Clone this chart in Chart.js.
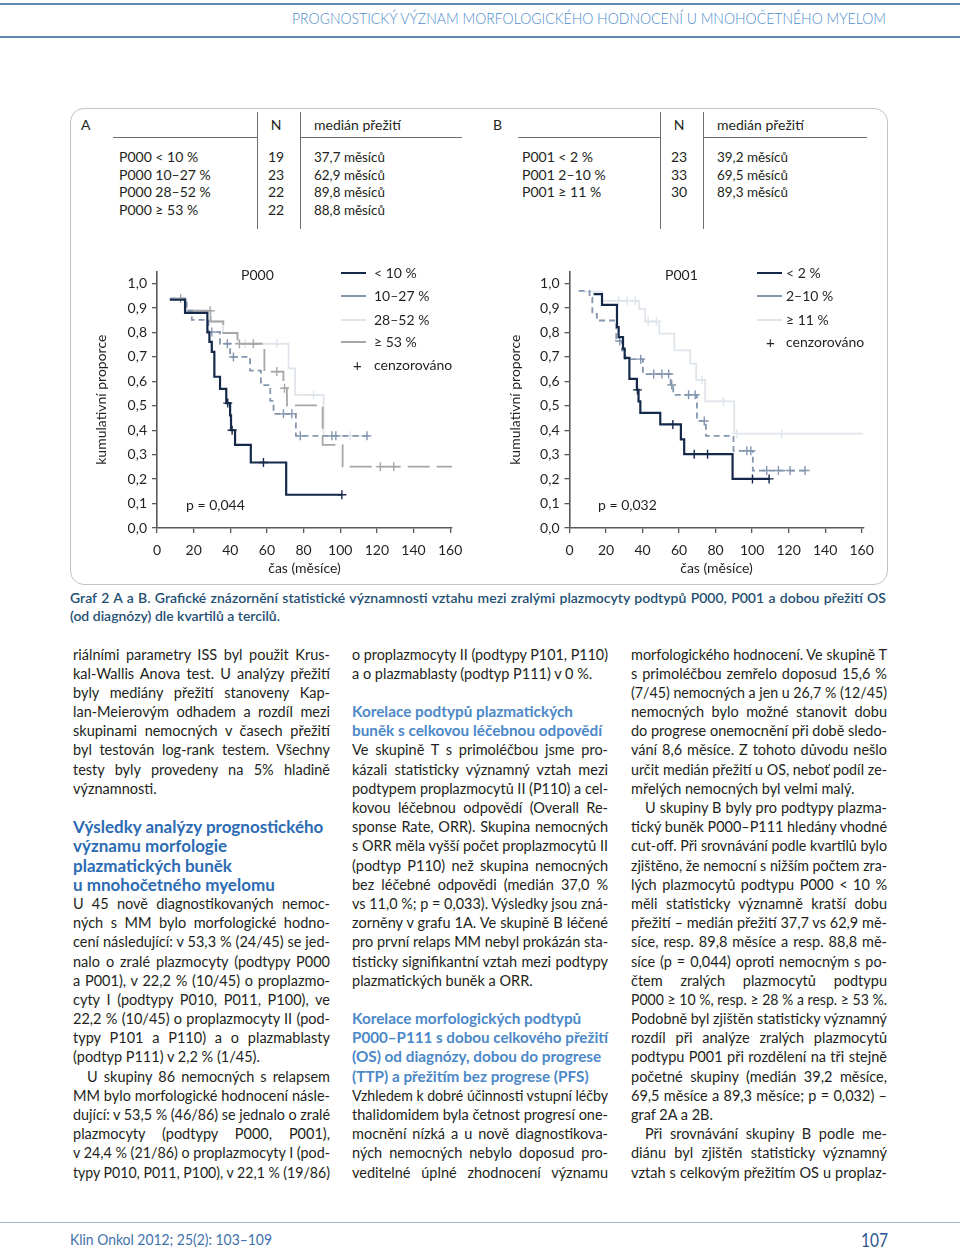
<!DOCTYPE html>
<html lang="cs">
<head>
<meta charset="UTF-8">
<title>Graf 2 A a B – přežití dle P000 a P001</title>
<script src="https://cdn.jsdelivr.net/npm/chart.js"></script>
<style>
  html, body { margin: 0; padding: 0; background: #fff; }
  body {
    width: 960px; height: 1257px; position: relative; overflow: hidden;
    font-family: Lato, "Noto Sans", sans-serif; color: #231f20;
  }
  .abs { position: absolute; white-space: nowrap; }
  .rule { position: absolute; background: #6d6e71; }
  .box {
    position: absolute; left: 70px; top: 108px; width: 816px; height: 475px;
    border: 1.5px solid #c4c4c4; border-radius: 14px;
  }
  canvas { position: absolute; }
</style>
</head>
<body>
<div class="box"></div>
<canvas id="grafA" width="385" height="325" style="left:90px;top:258px"></canvas>
<canvas id="grafB" width="388" height="325" style="left:500px;top:258px"></canvas>

<script>
// osy
const xTickValues = [0, 20, 40, 60, 80, 100, 120, 140, 160];
const yTickValues = [0, 0.1, 0.2, 0.3, 0.4, 0.5, 0.6, 0.7, 0.8, 0.9, 1.0];

// tabulka A
const aGroups = ['P000 < 10 %', 'P000 10–27 %', 'P000 28–52 %', 'P000 ≥ 53 %'];
const aN = [19, 23, 22, 22];
const aMedian = ['37,7 měsíců', '62,9 měsíců', '89,8 měsíců', '88,8 měsíců'];
// tabulka B
const bGroups = ['P001 < 2 %', 'P001 2–10 %', 'P001 ≥ 11 %'];
const bN = [23, 33, 30];
const bMedian = ['39,2 měsíců', '69,5 měsíců', '89,3 měsíců'];

// Graf A – P000, časy zlomů (měsíce), přežití, cenzorované časy
const aLegend = ['< 10 %', '10–27 %', '28–52 %', '≥ 53 %'];
const aT1 = [7, 15.3, 27.5, 28.6, 29.9, 31.3, 34.4, 37.8, 39.9, 40.4, 42.6, 51.2, 70.5, 100.9];
const aS1 = [0.934, 0.880, 0.800, 0.762, 0.721, 0.619, 0.569, 0.511, 0.461, 0.400, 0.340, 0.268, 0.136, 0.136];
const aC1 = [38.6, 41.0, 58.1, 100.9];
const aT2 = [7, 16.2, 19.0, 28.1, 34.4, 39.9, 50.8, 56.7, 61.8, 63.6, 75.8, 115.5];
const aS2 = [0.939, 0.889, 0.852, 0.802, 0.754, 0.700, 0.644, 0.585, 0.520, 0.467, 0.377, 0.377];
const aC2 = [29.9, 38.4, 41.7, 69.0, 73.6, 78.2, 95.5, 97.6, 114.6];
const aT3 = [7, 16.0, 29.5, 36.0, 44.0, 71.8, 75.4, 90.9, 116.4];
const aS3 = [0.939, 0.889, 0.845, 0.798, 0.754, 0.653, 0.545, 0.377, 0.377];
const aC3 = [48.0, 65.4, 85.4, 105.5];
const aT4 = [7, 15.5, 29.2, 36.2, 43.9, 58.6, 69.0, 70.9, 90.4, 101.3, 161];
const aS4 = [0.939, 0.889, 0.845, 0.798, 0.754, 0.640, 0.572, 0.502, 0.340, 0.251, 0.251];
const aC4 = [12.9, 29.0, 45.0, 52.6, 65.4, 69.6, 121.9, 129.2];

// Graf B – P001
const bLegend = ['< 2 %', '2–10 %', '≥ 11 %'];
const bT1 = [13.2, 17.8, 26.0, 26.9, 29.3, 30.2, 32.8, 36.9, 37.8, 38.8, 49.7, 61.0, 62.8, 89.3, 109.8];
const bS1 = [0.957, 0.913, 0.822, 0.781, 0.734, 0.696, 0.610, 0.565, 0.518, 0.471, 0.424, 0.363, 0.302, 0.201, 0.201];
const bC1 = [37.2, 56.6, 68.3, 75.6, 100.2, 109.3];
const bT2 = [5.0, 11.0, 12.5, 15.0, 25.6, 28.7, 30.5, 40.2, 55.4, 56.8, 69.8, 74.7, 89.8, 100.4, 130];
const bS2 = [0.970, 0.943, 0.876, 0.849, 0.765, 0.727, 0.691, 0.630, 0.585, 0.545, 0.438, 0.377, 0.316, 0.235, 0.235];
const bC2 = [27.5, 39.0, 46.1, 50.6, 54.3, 56.0, 65.2, 68.8, 73.8, 97.1, 99.3, 108, 114.4, 120.8, 129];
const bT3 = [8, 17.8, 38.2, 41.5, 49.2, 57.4, 66.1, 69.4, 74.3, 90.2, 160.9];
const bS3 = [0.967, 0.930, 0.896, 0.845, 0.795, 0.727, 0.673, 0.606, 0.518, 0.386, 0.386];
const bC3 = [26.9, 31.5, 36.0, 43.1, 47.6, 72.5, 84.3, 91.6, 116.2];

const colDark = '#14294a', colBlue = '#8396ae', colLight = '#dfe5eb', colGrey = '#a6a6a6';

// ---------- text helpers ----------
const toFit = [];
function txt(x, yc, text, o = {}) {
  const size = o.size || 14;
  const lh = o.lh || size * 1.25;
  const d = document.createElement('div');
  d.className = 'abs';
  d.style.left = x + 'px';
  d.style.top = (yc - lh / 2) + 'px';
  d.style.fontSize = size + 'px';
  d.style.lineHeight = lh + 'px';
  if (o.color) d.style.color = o.color;
  if (o.weight) d.style.fontWeight = o.weight;
  if (o.align === 'center') d.style.transform = 'translateX(-50%)';
  const s = document.createElement('span');
  s.textContent = text;
  d.appendChild(s);
  document.body.appendChild(d);
  if (o.w) toFit.push([s, o.w, !!o.justify]);
  return d;
}
function rule(x, y, w, h, color) {
  const d = document.createElement('div');
  d.className = 'rule';
  Object.assign(d.style, { left: x + 'px', top: y + 'px', width: w + 'px', height: h + 'px' });
  if (color) d.style.background = color;
  document.body.appendChild(d);
}
function legendLine(x, y, color) {
  rule(x, y - 1, 25, 2, color);
}

// záhlaví a patička
rule(0, 3, 960, 2, '#5f87b2');
rule(0, 36, 960, 1.5, '#5f87b2');
txt(292, 19, 'PROGNOSTICKÝ VÝZNAM MORFOLOGICKÉHO HODNOCENÍ U MNOHOČETNÉHO MYELOM',
    { size: 15.5, color: '#4e8ccd', weight: 300, w: 594 });
rule(0, 1222, 960, 1, '#9fb8d3');
txt(70, 1240, 'Klin Onkol 2012; 25(2): 103–109', { size: 15.5, color: '#3f72ad', w: 202 });
txt(861, 1240, '107', { size: 19, color: '#2a5793', w: 27 });

// tabulka
txt(81, 125, 'A', { size: 14 });
txt(276, 125, 'N', { size: 14, align: 'center' });
txt(314, 125, 'medián přežití', { size: 14, w: 88 });
txt(493, 125, 'B', { size: 14 });
txt(679, 125, 'N', { size: 14, align: 'center' });
txt(717, 125, 'medián přežití', { size: 14, w: 88 });
rule(113, 137, 145, 1);
rule(300, 137, 162, 1);
rule(518, 137, 142, 1);
rule(703, 137, 164, 1);
rule(257, 112, 1.3, 117);
rule(300, 112, 1.3, 117);
rule(660, 112, 1.3, 117);
rule(703, 112, 1.3, 117);
const rowY = [157, 174.5, 192, 209.5];
aGroups.forEach((g, i) => {
  txt(119, rowY[i], g, { size: 14 });
  txt(276, rowY[i], String(aN[i]), { size: 14, align: 'center' });
  txt(314, rowY[i], aMedian[i], { size: 14, w: 71 });
});
bGroups.forEach((g, i) => {
  txt(522, rowY[i], g, { size: 14 });
  txt(679, rowY[i], String(bN[i]), { size: 14, align: 'center' });
  txt(717, rowY[i], bMedian[i], { size: 14, w: 71 });
});

// popisky v grafech
txt(241, 275, 'P000', { size: 14 });
txt(186, 505, 'p = 0,044', { size: 14 });
const legY = [273, 296, 320, 342];
aLegend.forEach((l, i) => {
  legendLine(341, legY[i], [colDark, colBlue, colLight, colGrey][i]);
  txt(374, legY[i], l, { size: 14 });
});
txt(353, 365, '+', { size: 15 });
txt(374, 365, 'cenzorováno', { size: 14 });

txt(665, 275, 'P001', { size: 14 });
txt(598, 505, 'p = 0,032', { size: 14 });
bLegend.forEach((l, i) => {
  legendLine(757, legY[i], [colDark, colBlue, colLight][i]);
  txt(786, legY[i], l, { size: 14 });
});
txt(766, 342, '+', { size: 15 });
txt(786, 342, 'cenzorováno', { size: 14 });

// titulek grafu
txt(70, 598, 'Graf 2 A a B. Grafické znázornění statistické významnosti vztahu mezi zralými plazmocyty podtypů P000, P001 a dobou přežití OS',
    { size: 14, weight: 600, color: '#1f4f73', w: 816, justify: true });
txt(70, 616, '(od diagnózy) dle kvartilů a tercilů.', { size: 14, weight: 600, color: '#1f4f73' });

// ---------- sloupce textu ----------
const col1 = [
  ['riálními parametry ISS byl použit Krus-', 'j'],
  ['kal-Wallis Anova test. U analýzy přežití', 'j'],
  ['byly mediány přežití stanoveny Kap-', 'j'],
  ['lan-Meierovým odhadem a rozdíl mezi', 'j'],
  ['skupinami nemocných v časech přežití', 'j'],
  ['byl testován log-rank testem. Všechny', 'j'],
  ['testy byly provedeny na 5% hladině', 'j'],
  ['významnosti.', 'l'],
  ['', ''],
  ['Výsledky analýzy prognostického', 'h1'],
  ['významu morfologie', 'h1'],
  ['plazmatických buněk', 'h1'],
  ['u mnohočetného myelomu', 'h1'],
  ['U 45 nově diagnostikovaných nemoc-', 'j'],
  ['ných s MM bylo morfologické hodno-', 'j'],
  ['cení následující: v 53,3 % (24/45) se jed-', 'j'],
  ['nalo o zralé plazmocyty (podtypy P000', 'j'],
  ['a P001), v 22,2 % (10/45) o proplazmo-', 'j'],
  ['cyty I (podtypy P010, P011, P100), ve', 'j'],
  ['22,2 % (10/45) o proplazmocyty II (pod-', 'j'],
  ['typy P101 a P110) a o plazmablasty', 'j'],
  ['(podtyp P111) v 2,2 % (1/45).', 'l'],
  ['U skupiny 86 nemocných s relapsem', 'i'],
  ['MM bylo morfologické hodnocení násle-', 'j'],
  ['dující: v 53,5 % (46/86) se jednalo o zralé', 'j'],
  ['plazmocyty (podtypy P000, P001),', 'j'],
  ['v 24,4 % (21/86) o proplazmocyty I (pod-', 'j'],
  ['typy P010, P011, P100), v 22,1 % (19/86)', 'j']
];
const col2 = [
  ['o proplazmocyty II (podtypy P101, P110)', 'j'],
  ['a o plazmablasty (podtyp P111) v 0 %.', 'l'],
  ['', ''],
  ['Korelace podtypů plazmatických', 'h2'],
  ['buněk s celkovou léčebnou odpovědí', 'h2'],
  ['Ve skupině T s primoléčbou jsme pro-', 'j'],
  ['kázali statisticky významný vztah mezi', 'j'],
  ['podtypem proplazmocytů II (P110) a cel-', 'j'],
  ['kovou léčebnou odpovědí (Overall Re-', 'j'],
  ['sponse Rate, ORR). Skupina nemocných', 'j'],
  ['s ORR měla vyšší počet proplazmocytů II', 'j'],
  ['(podtyp P110) než skupina nemocných', 'j'],
  ['bez léčebné odpovědi (medián 37,0 %', 'j'],
  ['vs 11,0 %; p = 0,033). Výsledky jsou zná-', 'j'],
  ['zorněny v grafu 1A. Ve skupině B léčené', 'j'],
  ['pro první relaps MM nebyl prokázán sta-', 'j'],
  ['tisticky signifikantní vztah mezi podtypy', 'j'],
  ['plazmatických buněk a ORR.', 'l'],
  ['', ''],
  ['Korelace morfologických podtypů', 'h2'],
  ['P000–P111 s dobou celkového přežití', 'h2'],
  ['(OS) od diagnózy, dobou do progrese', 'h2'],
  ['(TTP) a přežitím bez progrese (PFS)', 'h2'],
  ['Vzhledem k dobré účinnosti vstupní léčby', 'j'],
  ['thalidomidem byla četnost progresí one-', 'j'],
  ['mocnění nízká a u nově diagnostikova-', 'j'],
  ['ných nemocných nebylo doposud pro-', 'j'],
  ['veditelné úplné zhodnocení významu', 'j']
];
const col3 = [
  ['morfologického hodnocení. Ve skupině T', 'j'],
  ['s primoléčbou zemřelo doposud 15,6 %', 'j'],
  ['(7/45) nemocných a jen u 26,7 % (12/45)', 'j'],
  ['nemocných bylo možné stanovit dobu', 'j'],
  ['do progrese onemocnění při době sledo-', 'j'],
  ['vání 8,6 měsíce. Z tohoto důvodu nešlo', 'j'],
  ['určit medián přežití u OS, neboť podíl ze-', 'j'],
  ['mřelých nemocných byl velmi malý.', 'l'],
  ['U skupiny B byly pro podtypy plazma-', 'i'],
  ['tický buněk P000–P111 hledány vhodné', 'j'],
  ['cut-off. Při srovnávání podle kvartilů bylo', 'j'],
  ['zjištěno, že nemocní s nižším počtem zra-', 'j'],
  ['lých plazmocytů podtypu P000 < 10 %', 'j'],
  ['měli statisticky významně kratší dobu', 'j'],
  ['přežití – medián přežití 37,7 vs 62,9 mě-', 'j'],
  ['síce, resp. 89,8 měsíce a resp. 88,8 mě-', 'j'],
  ['síce (p = 0,044) oproti nemocným s po-', 'j'],
  ['čtem zralých plazmocytů podtypu', 'j'],
  ['P000 ≥ 10 %, resp. ≥ 28 % a resp. ≥ 53 %.', 'j'],
  ['Podobně byl zjištěn statisticky významný', 'j'],
  ['rozdíl při analýze zralých plazmocytů', 'j'],
  ['podtypu P001 při rozdělení na tři stejně', 'j'],
  ['početné skupiny (medián 39,2 měsíce,', 'j'],
  ['69,5 měsíce a 89,3 měsíce; p = 0,032) –', 'j'],
  ['graf 2A a 2B.', 'l'],
  ['Při srovnávání skupiny B podle me-', 'i'],
  ['diánu byl zjištěn statisticky významný', 'j'],
  ['vztah s celkovým přežitím OS u proplaz-', 'j']
];
function column(lines, x0, w) {
  lines.forEach(([t, k], i) => {
    if (!t) return;
    const yc = 654 + i * 19.19;
    if (k === 'h1') txt(x0, yc, t, { size: 17, weight: 700, color: '#2c6bb3', lh: 19, w: w });
    else if (k === 'h2') txt(x0, yc, t, { size: 15.3, weight: 700, color: '#4c88c8', lh: 19, w: w });
    else if (k === 'l') txt(x0, yc, t, { size: 14.5, lh: 19, w: w });
    else if (k === 'i') txt(x0 + 14, yc, t, { size: 14.5, lh: 19, w: w - 14, justify: true });
    else txt(x0, yc, t, { size: 14.5, lh: 19, w: w, justify: true });
  });
}
column(col1, 73, 257);
column(col2, 352, 256);
column(col3, 631, 256);

function fitAll() {
  toFit.forEach(([s, W, just]) => {
    const w = s.getBoundingClientRect().width;
    if (w > W) {
      s.style.display = 'inline-block';
      s.style.transformOrigin = '0 50%';
      s.style.transform = 'scaleX(' + (W / w) + ')';
    } else if (just) {
      const n = (s.textContent.match(/ /g) || []).length;
      if (n) s.style.wordSpacing = ((W - w) / n) + 'px';
    }
  });
}
if (document.fonts && document.fonts.ready) document.fonts.ready.then(fitAll); else fitAll();

// ---------- grafy ----------
function levelAt(t, s, x) {
  let y = s[0];
  for (let i = 0; i < t.length; i++) if (t[i] <= x) y = s[i];
  return y;
}
function curve(t, s, color, width, dash) {
  return {
    type: 'line',
    data: t.map((v, i) => ({ x: v, y: s[i] })),
    borderColor: color, borderWidth: width, borderDash: dash || [],
    stepped: true, pointRadius: 0, fill: false, tension: 0
  };
}
function censored(t, s, c, color) {
  return {
    type: 'scatter',
    data: c.map(v => ({ x: v, y: levelAt(t, s, v) })),
    borderColor: color, backgroundColor: color,
    pointStyle: 'cross', pointRadius: 4.5, borderWidth: 1.4, showLine: false
  };
}

Chart.defaults.font.family = 'Lato, "Noto Sans", sans-serif';
Chart.defaults.font.size = 14;
Chart.defaults.color = '#231f20';

function kmChart(id, datasets, yWidth, titlePad, padRight) {
  const axisCol = '#58595b';
  new Chart(document.getElementById(id), {
    type: 'line',
    data: { datasets: datasets },
    options: {
      responsive: false,
      animation: false,
      layout: { padding: { left: 0, top: 10.65, right: padRight, bottom: 0 } },
      plugins: { legend: { display: false }, tooltip: { enabled: false } },
      scales: {
        x: {
          type: 'linear', min: 0, max: 161,
          afterBuildTicks: sc => { sc.ticks = xTickValues.map(v => ({ value: v })); },
          afterFit: sc => { sc.height = 55; },
          grid: { drawOnChartArea: false, drawTicks: true, tickLength: 5, color: axisCol, lineWidth: 1.3 },
          border: { color: axisCol, width: 1.6 },
          ticks: { padding: 9, maxRotation: 0, font: { size: 14 } },
          title: { display: true, text: 'čas (měsíce)', padding: { top: 0, bottom: 6 }, font: { size: 14 } }
        },
        y: {
          type: 'linear', min: 0, max: 1.05,
          afterBuildTicks: sc => { sc.ticks = yTickValues.map(v => ({ value: v })); },
          afterFit: sc => { sc.width = yWidth; },
          grid: { drawOnChartArea: false, drawTicks: true, tickLength: 5, color: axisCol, lineWidth: 1.3 },
          border: { color: axisCol, width: 1.6 },
          ticks: { padding: 5, font: { size: 14 }, callback: v => v.toFixed(1).replace('.', ',') },
          title: { display: true, text: 'kumulativní proporce', padding: { top: titlePad, bottom: 0 }, font: { size: 14 } }
        }
      }
    }
  });
}

kmChart('grafA', [
  curve(aT1, aS1, colDark, 2.2),
  censored(aT1, aS1, aC1, colDark),
  curve(aT2, aS2, colBlue, 1.8, [6, 4]),
  censored(aT2, aS2, aC2, colBlue),
  curve(aT4, aS4, colGrey, 1.8, [22, 7]),
  censored(aT4, aS4, aC4, colGrey),
  curve(aT3, aS3, colLight, 1.8),
  censored(aT3, aS3, aC3, colLight)
], 67, 2.6, 23);

kmChart('grafB', [
  curve(bT1, bS1, colDark, 2.2),
  censored(bT1, bS1, bC1, colDark),
  curve(bT2, bS2, colBlue, 1.8, [6, 4]),
  censored(bT2, bS2, bC2, colBlue),
  curve(bT3, bS3, colLight, 1.8),
  censored(bT3, bS3, bC3, colLight)
], 69.5, 6.6, 24.5);
</script>
</body>
</html>
